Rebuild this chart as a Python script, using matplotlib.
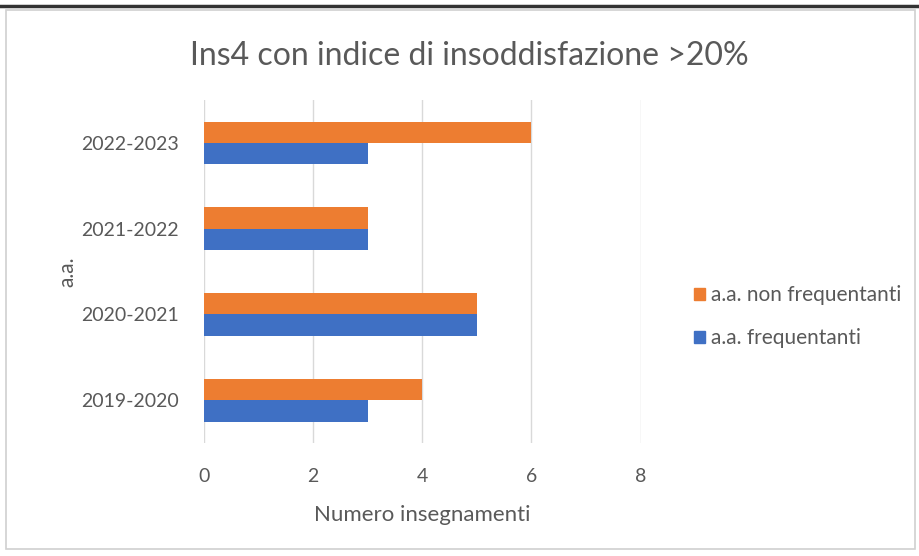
import numpy as np
import matplotlib.pyplot as plt
from matplotlib.patches import Patch, Rectangle
from matplotlib.lines import Line2D

anni = ["2019-2020", "2020-2021", "2021-2022", "2022-2023"]
frequentanti = [3, 5, 3, 3]
non_frequentanti = [4, 5, 3, 6]

plt.rcParams['font.family'] = ['Lato', 'DejaVu Sans']
grigio = "#595959"
arancio = "#ED7D31"
blu = "#3F70C4"

fig = plt.figure(figsize=(9.19, 5.56), dpi=100)
ax = fig.add_axes([0.222, 0.203, 0.475, 0.617])

y = np.arange(len(anni))
h = 0.25
ax.barh(y + h / 2, non_frequentanti, height=h, color=arancio, zorder=3)
ax.barh(y - h / 2, frequentanti, height=h, color=blu, zorder=3)

ax.set_xlim(0, 8)
ax.set_ylim(-0.5, len(anni) - 0.5)
ax.set_xticks([0, 2, 4, 6, 8])
ax.set_yticks(y)
ax.set_yticklabels(anni)
ax.tick_params(length=0, labelsize=14, colors=grigio, pad=18)
ax.tick_params(axis='x', pad=18)
ax.grid(axis='x', color="#D9D9D9", linewidth=1, zorder=0)
for s in ax.spines.values():
    s.set_visible(False)

ax.set_xlabel("Numero insegnamenti", fontsize=16, color=grigio, labelpad=14)
ax.set_ylabel("a.a.", fontsize=15, color=grigio, labelpad=3)
fig.text(0.511, 0.9, "Ins4 con indice di insoddisfazione >20%", ha="center", va="center",
         fontsize=23, color=grigio)

handles = [Patch(color=arancio, label="a.a. non frequentanti"),
           Patch(color=blu, label="a.a. frequentanti")]
fig.legend(handles=handles, loc="center left", bbox_to_anchor=(0.735, 0.43), frameon=False,
           fontsize=15, labelcolor=grigio, handlelength=0.5, handleheight=0.5,
           handletextpad=0.3, labelspacing=1.1)

# cornice del grafico
fig.patches.append(Rectangle((0.006, 0.012), 0.99, 0.97, transform=fig.transFigure,
                             fill=False, edgecolor="#D0D0D0", linewidth=1.2))
fig.lines.append(Line2D([0, 1], [0.99, 0.99], transform=fig.transFigure,
                        color="#333333", linewidth=2.5))

fig.savefig("out.png", dpi=100)
